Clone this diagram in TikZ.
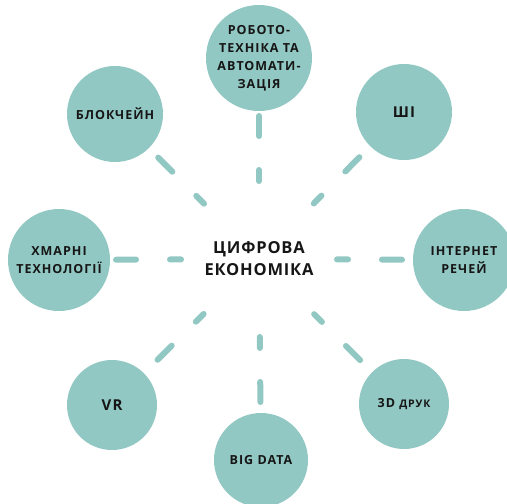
\documentclass[tikz,border=0pt]{standalone}
\usepackage{fontspec}
\setmainfont{Open Sans}
\newfontfamily\spacedfont[LetterSpace=8]{Open Sans}
\newfontfamily\titlefont[LetterSpace=5]{Open Sans}
\usetikzlibrary{calc}
\definecolor{teal1}{HTML}{92C8C3}
\definecolor{ink}{HTML}{161616}

\begin{document}
\begin{tikzpicture}[x=1pt, y=-1pt,
  topic/.style={circle, fill=teal1, inner sep=0, align=center, text=ink,
    font=\spacedfont\bfseries\fontsize{12.5}{18}\selectfont},
  spoke/.style={teal1, line width=6pt, line cap=round}]
\useasboundingbox (0,0) rectangle (507,504);
\node[align=center, text=ink, font=\titlefont\bfseries\fontsize{16.5}{22}\selectfont] (eco) at (259,259) {ЦИФРОВА\\ЕКОНОМІКА};
\node[topic, minimum size=106] (rob) at (259,58) {РОБОТО-\\ТЕХНІКА ТА\\АВТОМАТИ-\\ЗАЦІЯ};
\node[topic, minimum size=96] (ai) at (404,112) {\fontsize{15}{18}\selectfont ШІ};
\node[topic, minimum size=96] (blk) at (115,114) {\raisebox{-3pt}{БЛОКЧЕЙН}};
\node[topic, minimum size=102] (cloud) at (59,260) {ХМАРНІ\\ТЕХНОЛОГІЇ};
\node[topic, minimum size=102] (iot) at (464,260) {ІНТЕРНЕТ\\РЕЧЕЙ};
\node[topic, minimum size=90] (vr) at (112,405) {\fontsize{15}{18}\selectfont VR};
\node[topic, minimum size=90] (print) at (404,404) {3D {\fontsize{10.5}{18}\selectfont ДРУК}};
\node[topic, minimum size=94] (big) at (261,460) {BIG DATA};
\foreach \n in {rob, ai, blk, cloud, iot, vr, print, big} {
 \draw[spoke] ($(eco)!78pt!(\n)$) -- ($(eco)!89pt!(\n)$);
 \draw[spoke] ($(eco)!123pt!(\n)$) -- ($(eco)!143pt!(\n)$);
}
\end{tikzpicture}
\end{document}
